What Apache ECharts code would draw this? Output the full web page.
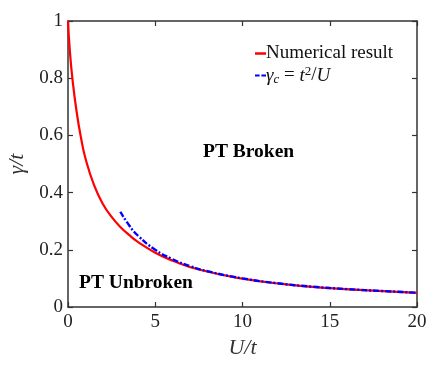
<!DOCTYPE html>
<html>
<head>
<meta charset="utf-8">
<script src="https://cdn.jsdelivr.net/npm/echarts@6/dist/echarts.min.js"></script>
<style>
  html, body { margin: 0; padding: 0; background: #fff; }
  #main { width: 436px; height: 367px; }
</style>
</head>
<body>
<div id="main"></div>
<script>
// numerical boundary gamma/t vs U/t
const numU     = [0, 0.1, 0.25, 0.5, 0.75, 1.0, 1.5, 2.0, 2.5, 3.0, 3.5, 4.0, 5.0, 6.0, 7.5, 10, 12.5, 15, 17.5, 20];
const numGamma = [1.0, 0.90, 0.80, 0.68, 0.59, 0.52, 0.425, 0.36, 0.315, 0.28, 0.252, 0.228, 0.19, 0.162, 0.131, 0.099, 0.079, 0.066, 0.057, 0.0495];

// large-U estimate gamma_c = t^2/U
const estU     = [3, 3.5, 4, 5, 6, 7, 8, 10, 12, 14, 16, 18, 20];
const estGamma = [0.333, 0.286, 0.25, 0.2, 0.167, 0.143, 0.125, 0.1, 0.083, 0.071, 0.0625, 0.056, 0.05];

const xTicks = [0, 5, 10, 15, 20];
const yTicks = [0, 0.2, 0.4, 0.6, 0.8, 1];

const serif = 'Liberation Serif';
const axisCol = '#333';

const chart = echarts.init(document.getElementById('main'));

const zip = (a, b) => a.map((v, i) => [v, b[i]]);

const baseAxis = {
  axisLine: { show: true, onZero: false, lineStyle: { color: axisCol, width: 1.5 } },
  axisTick: { show: true, inside: true, length: 5, lineStyle: { color: axisCol, width: 1.2 } },
  splitLine: { show: false }
};

chart.setOption({
  animation: false,
  grid: { left: 68, right: 19, top: 21, bottom: 60, containLabel: false, outerBoundsMode: 'none' },
  xAxis: [
    Object.assign({}, baseAxis, {
      type: 'value', min: xTicks[0], max: xTicks[xTicks.length - 1], interval: 5,
      position: 'bottom',
      axisLabel: { color: '#222', fontFamily: serif, fontSize: 19, margin: 6 },
      name: 'U/t', nameLocation: 'middle', nameGap: 30,
      nameTextStyle: { fontFamily: serif, fontStyle: 'italic', fontSize: 22, color: '#333' }
    }),
    Object.assign({}, baseAxis, {
      type: 'value', min: 0, max: 20, interval: 5, position: 'top',
      axisLabel: { show: false }
    })
  ],
  yAxis: [
    Object.assign({}, baseAxis, {
      type: 'value', min: yTicks[0], max: yTicks[yTicks.length - 1], interval: 0.2,
      position: 'left',
      axisLabel: { color: '#222', fontFamily: serif, fontSize: 19, margin: 5 },
      name: 'γ/t', nameLocation: 'middle', nameGap: 40, nameRotate: 90,
      nameTextStyle: { fontFamily: serif, fontStyle: 'italic', fontSize: 22, color: '#333' }
    }),
    Object.assign({}, baseAxis, {
      type: 'value', min: 0, max: 1, interval: 0.2, position: 'right',
      axisLabel: { show: false }
    })
  ],
  legend: {
    left: 250, top: 39, orient: 'vertical', itemGap: 2,
    itemWidth: 11, itemHeight: 2.5,
    textStyle: {
      fontFamily: serif, fontSize: 19, color: '#111', padding: [0, 0, 0, -5],
      rich: {
        it: { fontFamily: serif, fontStyle: 'italic', fontSize: 19, color: '#111' },
        n: { fontFamily: serif, fontSize: 19, color: '#111' },
        sub: { fontFamily: serif, fontStyle: 'italic', fontSize: 13, color: '#111', verticalAlign: 'bottom', padding: [8, 0, 0, 0] },
        sup: { fontFamily: serif, fontSize: 13, color: '#111', verticalAlign: 'top', padding: [0, 0, 8, 0] }
      }
    },
    formatter: function (name) {
      if (name === 'gammaC') return '{it|γ}{sub|c}{n| = }{it|t}{sup|2}{n|/}{it|U}';
      return name;
    },
    data: [
      { name: 'Numerical result', icon: 'rect' },
      { name: 'gammaC', icon: 'path://M0,0h5v2h-5z M7,0h5v2h-5z' }
    ]
  },
  graphic: [
    { type: 'text', left: 203, top: 142, style: { text: 'PT Broken', font: 'bold 19.5px "Liberation Serif"', fill: '#000' } },
    { type: 'text', left: 79, top: 273, style: { text: 'PT Unbroken', font: 'bold 19.5px "Liberation Serif"', fill: '#000' } }
  ],
  series: [
    {
      name: 'Numerical result', type: 'line', smooth: true, symbol: 'none',
      data: zip(numU, numGamma),
      lineStyle: { color: '#ff0000', width: 2.2 },
      itemStyle: { color: '#ff0000' }
    },
    {
      name: 'gammaC', type: 'line', smooth: true, symbol: 'none',
      data: zip(estU, estGamma),
      lineStyle: { color: '#0000ff', width: 2.4, type: [6, 2, 2, 2] },
      itemStyle: { color: '#0000ff' },
      z: 3
    }
  ]
});
</script>
</body>
</html>
